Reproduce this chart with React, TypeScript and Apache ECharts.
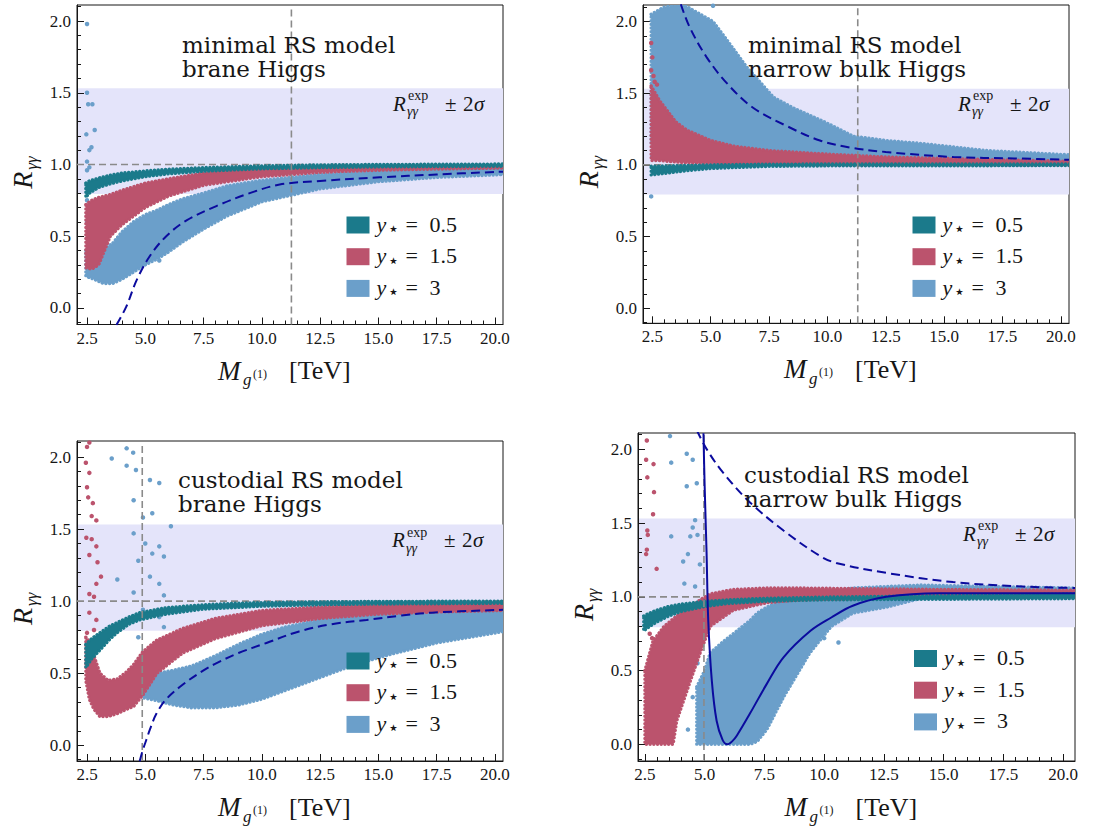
import React, { useEffect, useRef } from 'react';
import * as echarts from 'echarts';

const FONT = 'Liberation Serif';
const TITLEFONT = 'DejaVu Serif';
const SYMFONT = 'DejaVu Sans';

// ---------- axes / ticks ----------
const xMajor = [2.5, 5, 7.5, 10, 12.5, 15, 17.5, 20];
const yMajor = [0, 0.5, 1, 1.5, 2];

// experimental band R_gg^exp +- 2 sigma
const bandLo = 0.794;
const bandHi = 1.531;

// colours
const C_TEAL = '#1b7a8b';
const C_RED = '#bb536d';
const C_BLUE = '#6b9fca';
const C_NAVY = '#0b0b9e';
const C_GRAY = '#8a8a8a';
const C_BAND = '#e4e4fa';
const C_INK = '#161616';

// ---------- panel frames ----------
const xRanges = [[2.07, 20.35], [2.1, 20.35], [2.07, 20.35], [2.21, 20.5]];
const yRanges = [[-0.116, 2.112], [-0.105, 2.115], [-0.109, 2.111], [-0.113, 2.111]];
const vLines = [11.27, 11.3, 4.87, 4.97];
const titles = [
  'minimal RS model\nbrane Higgs',
  'minimal RS model\nnarrow bulk Higgs',
  'custodial RS model\nbrane Higgs',
  'custodial RS model\nnarrow bulk Higgs',
];
const legendValues = ['0.5', '1.5', '3'];

// ---------- clouds: [M, lower, upper] ----------
// panel 1: minimal RS, brane Higgs
const p1Teal = [[2.45, 0.77, 0.87], [2.6, 0.8, 0.885], [3, 0.84, 0.905], [3.5, 0.865, 0.925], [4, 0.885, 0.94], [5, 0.915, 0.955], [6, 0.935, 0.967], [7.5, 0.953, 0.978], [10, 0.97, 0.99], [12.5, 0.978, 0.997], [15, 0.983, 1.0], [20.4, 0.988, 1.003]];
const p1Red = [[2.45, 0.28, 0.72], [2.7, 0.27, 0.75], [3, 0.3, 0.77], [3.5, 0.5, 0.79], [4, 0.58, 0.82], [4.5, 0.64, 0.845], [5, 0.7, 0.87], [6, 0.78, 0.9], [7.5, 0.855, 0.94], [10, 0.915, 0.97], [12.5, 0.945, 0.983], [15, 0.96, 0.99], [17.5, 0.968, 0.993], [20.4, 0.975, 0.996]];
const p1Blue = [[2.45, 0.22, 0.4], [2.8, 0.2, 0.39], [3.2, 0.17, 0.41], [3.6, 0.17, 0.45], [4, 0.2, 0.53], [4.5, 0.25, 0.6], [5, 0.3, 0.65], [5.5, 0.34, 0.68], [6, 0.39, 0.72], [6.6, 0.46, 0.76], [7.5, 0.55, 0.8], [8.5, 0.64, 0.85], [10, 0.74, 0.89], [12.5, 0.83, 0.93], [15, 0.88, 0.95], [17.5, 0.91, 0.965], [20.4, 0.93, 0.975]];
const p1BlueDots = [[2.5, 1.98], [2.5, 1.5], [2.55, 1.42], [2.73, 1.42], [2.83, 1.24], [2.47, 1.21], [2.69, 1.12], [2.6, 1.1], [2.5, 1.02], [2.6, 0.98], [2.5, 0.96], [2.55, 0.84], [2.5, 0.75], [2.62, 0.68], [2.5, 0.6], [2.55, 0.52], [2.6, 0.46], [5.6, 0.33]];
const p1Dashed = [[3.76, -0.12], [4.19, 0.01], [4.62, 0.19], [5.19, 0.36], [5.9, 0.5], [6.77, 0.61], [8.05, 0.71], [9.48, 0.8], [10.77, 0.86], [12.5, 0.885], [15.06, 0.91], [17.5, 0.93], [20.35, 0.95]];

// panel 2: minimal RS, narrow bulk Higgs
const p2Teal = [[2.45, 0.93, 0.99], [3, 0.94, 0.992], [4, 0.96, 0.996], [5, 0.975, 1.0], [7.5, 0.99, 1.005], [10, 0.993, 1.006], [20.4, 0.995, 1.006]];
const p2Red = [[2.45, 1.03, 1.55], [2.8, 1.03, 1.45], [3.5, 1.02, 1.3], [4, 1.015, 1.24], [5, 1.01, 1.17], [6, 1.005, 1.13], [7.5, 1.0, 1.1], [10, 1.0, 1.075], [12.5, 1.0, 1.055], [15, 1.0, 1.045], [17.5, 1.0, 1.035], [20.4, 1.0, 1.025]];
const p2RedDots = [[2.45, 1.85], [2.5, 1.75], [2.55, 1.62], [2.6, 1.58], [2.45, 1.66], [2.7, 1.56]];
const p2Blue = [[2.45, 1.15, 2.05], [3, 1.1, 2.1], [3.8, 1.1, 2.12], [5.1, 1.08, 2.0], [5.7, 1.06, 1.87], [6.55, 1.05, 1.68], [7.7, 1.04, 1.47], [8.5, 1.04, 1.4], [10, 1.03, 1.29], [11.1, 1.03, 1.2], [12.5, 1.02, 1.17], [14, 1.02, 1.15], [16.8, 1.01, 1.1], [20.4, 1.01, 1.07]];
const p2BlueDots = [[2.45, 0.78], [2.5, 1.06], [2.6, 1.12], [5.1, 2.11]];
const p2Dashed = [[3.72, 2.12], [4.1, 1.96], [4.83, 1.75], [5.69, 1.57], [6.8, 1.4], [8.27, 1.27], [9.68, 1.17], [11, 1.12], [12.5, 1.09], [15.4, 1.055], [18, 1.045], [20.35, 1.035]];

// panel 3: custodial RS, brane Higgs
const p3Teal = [[2.45, 0.54, 0.7], [2.7, 0.6, 0.74], [3.05, 0.66, 0.78], [3.5, 0.74, 0.83], [3.78, 0.78, 0.85], [4.3, 0.84, 0.89], [4.76, 0.87, 0.92], [5.9, 0.91, 0.955], [7.5, 0.945, 0.975], [8.8, 0.955, 0.985], [10, 0.965, 0.99], [12.5, 0.975, 0.995], [15, 0.98, 0.998], [20.4, 0.985, 1.0]];
const p3Red = [[2.45, 0.45, 0.75], [2.6, 0.32, 0.72], [2.8, 0.25, 0.62], [3.05, 0.2, 0.5], [3.4, 0.2, 0.45], [3.8, 0.22, 0.46], [4.2, 0.25, 0.51], [4.5, 0.27, 0.56], [4.9, 0.35, 0.65], [5.5, 0.5, 0.73], [6.6, 0.64, 0.81], [8, 0.74, 0.88], [10, 0.83, 0.935], [12.5, 0.88, 0.96], [15, 0.91, 0.97], [17.5, 0.925, 0.975], [20.4, 0.935, 0.98]];
const p3RedDots = [[2.5, 2.07], [2.6, 2.1], [2.45, 1.96], [2.6, 1.89], [2.5, 1.79], [2.55, 1.72], [2.75, 1.68], [2.7, 1.59], [2.9, 1.56], [2.47, 1.44], [2.7, 1.43], [2.9, 1.38], [2.6, 1.32], [2.95, 1.27], [3.1, 1.17], [2.9, 1.12], [2.6, 1.05], [2.8, 1.03], [2.6, 0.92], [2.9, 0.87], [2.5, 0.78], [2.8, 0.8]];
const p3Blue = [[4.9, 0.33, 0.47], [5.5, 0.31, 0.5], [6.2, 0.28, 0.52], [7, 0.26, 0.55], [8, 0.26, 0.62], [9, 0.28, 0.7], [10, 0.32, 0.77], [11, 0.38, 0.82], [12.5, 0.47, 0.87], [14, 0.56, 0.9], [15.5, 0.63, 0.915], [17.5, 0.71, 0.93], [20.4, 0.79, 0.945]];
const p3BlueDots = [[4.2, 2.06], [4.48, 2.03], [3.56, 1.99], [4.2, 1.94], [4.6, 1.91], [5.2, 1.84], [5.6, 1.82], [4.5, 1.7], [5.3, 1.61], [4.9, 1.58], [6.1, 1.52], [4.5, 1.47], [5.0, 1.4], [5.6, 1.38], [5.3, 1.33], [5.8, 1.31], [4.7, 1.28], [3.8, 1.15], [5.2, 1.17], [5.6, 1.12], [4.5, 1.06], [5.8, 1.04], [4.9, 0.94], [5.6, 0.89], [4.7, 0.75], [5.8, 0.82], [5.2, 0.62], [4.8, 0.52]];
const p3Dashed = [[4.76, -0.11], [4.9, -0.03], [5.05, 0.04], [5.2, 0.11], [5.48, 0.22], [5.9, 0.32], [6.6, 0.42], [7.5, 0.52], [8.06, 0.57], [9, 0.64], [10.2, 0.71], [11.6, 0.79], [13, 0.84], [14.5, 0.87], [16, 0.9], [17.3, 0.92], [20.35, 0.94]];

// panel 4: custodial RS, narrow bulk Higgs
const p4Teal = [[2.45, 0.77, 0.87], [2.7, 0.8, 0.89], [3, 0.83, 0.91], [3.5, 0.87, 0.935], [4, 0.9, 0.95], [5, 0.935, 0.97], [6, 0.955, 0.98], [7.5, 0.97, 0.99], [10, 0.98, 0.998], [20.5, 0.988, 1.02]];
const p4Red = [[2.5, 0.0, 0.5], [2.84, 0.0, 0.7], [3.3, 0.0, 0.8], [3.68, 0.0, 0.85], [3.83, 0.16, 0.87], [4.4, 0.43, 0.93], [4.81, 0.62, 0.98], [5.23, 0.8, 1.02], [6.2, 0.91, 1.05], [7.6, 0.96, 1.06], [9, 0.98, 1.06], [12, 0.99, 1.055], [15, 1.0, 1.05], [20.5, 1.0, 1.045]];
const p4RedDots = [[2.58, 2.06], [2.55, 1.93], [2.86, 1.9], [2.6, 1.81], [2.88, 1.71], [2.84, 1.56], [2.6, 1.45], [2.62, 1.42], [2.58, 1.32], [2.55, 1.29], [2.99, 1.19], [2.7, 0.75], [2.8, 0.72]];
const p4Blue = [[4.67, 0.0, 0.39], [5, 0.0, 0.5], [5.23, 0.0, 0.62], [5.8, 0.0, 0.7], [6.2, 0.0, 0.75], [6.9, 0.0, 0.84], [7.2, 0.02, 0.89], [7.6, 0.1, 0.93], [8.3, 0.32, 0.98], [9.4, 0.62, 1.01], [10.3, 0.8, 1.03], [11.2, 0.89, 1.06], [12.6, 0.93, 1.07], [14.05, 0.99, 1.08], [17, 1.0, 1.07], [20.5, 1.0, 1.06]];
const p4BlueDots = [[3.55, 2.09], [4.25, 1.97], [4.5, 1.93], [3.6, 1.91], [4.25, 1.75], [4.67, 1.77], [4.6, 1.52], [4.5, 1.47], [4.4, 1.41], [4.7, 1.42], [3.6, 1.41], [4.1, 1.24], [4.3, 1.29], [4.8, 1.22], [4.6, 1.07], [4.15, 1.09], [4.9, 0.98], [4.75, 0.85], [4.85, 0.7], [4.7, 0.55], [4.5, 0.32], [4.3, 0.1], [10.0, 0.72], [10.6, 0.69]];
const p4Dashed = [[4.67, 2.13], [5.09, 2.0], [5.78, 1.84], [6.9, 1.64], [8.3, 1.45], [9.8, 1.28], [10.5, 1.23], [12.7, 1.16], [15.4, 1.1], [18.3, 1.07], [20.5, 1.06]];
const p4Solid = [[4.95, 2.11], [5.0, 1.75], [5.08, 1.3], [5.15, 0.84], [5.3, 0.43], [5.5, 0.16], [5.75, 0.03], [5.95, 0.0], [6.15, 0.02], [6.35, 0.06], [6.9, 0.21], [7.6, 0.41], [8.3, 0.59], [9.43, 0.77], [10.3, 0.86], [11.2, 0.94], [12.6, 1.0], [14.8, 1.025], [17, 1.025], [20.5, 1.025]];

const panels = [
  { teal: p1Teal, red: p1Red, blue: p1Blue, redDots: [], blueDots: p1BlueDots, dashed: p1Dashed, solid: null },
  { teal: p2Teal, red: p2Red, blue: p2Blue, redDots: p2RedDots, blueDots: p2BlueDots, dashed: p2Dashed, solid: null },
  { teal: p3Teal, red: p3Red, blue: p3Blue, redDots: p3RedDots, blueDots: p3BlueDots, dashed: p3Dashed, solid: null },
  { teal: p4Teal, red: p4Red, blue: p4Blue, redDots: p4RedDots, blueDots: p4BlueDots, dashed: p4Dashed, solid: p4Solid },
];

// ---------- layout (pixels) ----------
const grids = [
  { left: 77, top: 5, width: 426, height: 319.5 },
  { left: 643, top: 5, width: 426, height: 318.3 },
  { left: 77, top: 441, width: 426, height: 320 },
  { left: 638, top: 433, width: 437, height: 328 },
];
const titlePos = [[182, 57], [748, 57], [178, 492], [744, 487]];
const rexpPos = [[393, 103.5], [958, 103.5], [392, 540], [963, 533.5]];
const legendPos = [[346.5, 225], [912.5, 225], [346.5, 661], [914, 658.5]];

function minorTicks(majors: number[], from: number, to: number, step: number) {
  const out: number[] = [];
  const n = Math.round((to - from) / step);
  for (let i = 0; i <= n; i++) {
    const v = +(from + i * step).toFixed(3);
    if (!majors.some((m) => Math.abs(m - v) < 1e-6)) out.push(v);
  }
  return out;
}
const xMinor = minorTicks(xMajor, 2.5, 20, 0.5);
const yMinor = minorTicks(yMajor, -0.1, 2.1, 0.1);

function T(x: number, y: number, text: string, size: number, italic = false, family = FONT, extra: any = {}) {
  return {
    type: 'text',
    x,
    y,
    z: 100,
    silent: true,
    style: {
      text,
      fontSize: size,
      fontFamily: family,
      fontStyle: italic ? 'italic' : 'normal',
      fill: C_INK,
      verticalAlign: 'middle',
      align: 'left',
      ...extra,
    },
  };
}

function cloud(p: number, band: number[][], color: string, z: number) {
  return {
    type: 'custom',
    xAxisIndex: 2 * p,
    yAxisIndex: 2 * p,
    clip: true,
    silent: true,
    z,
    data: [[band[0][0], band[0][1]]],
    renderItem: (_params: any, api: any) => {
      const pts: number[][] = [];
      for (const b of band) pts.push(api.coord([b[0], b[2]]));
      for (let i = band.length - 1; i >= 0; i--) pts.push(api.coord([band[i][0], band[i][1]]));
      return {
        type: 'polygon',
        shape: { points: pts },
        style: { fill: color, stroke: color, lineWidth: 3.4, lineDash: [0.1, 3.6], lineCap: 'round', lineJoin: 'round' },
      };
    },
  };
}

function dots(p: number, data: number[][], color: string, z: number) {
  return {
    type: 'scatter',
    xAxisIndex: 2 * p,
    yAxisIndex: 2 * p,
    data,
    symbolSize: 4.5,
    silent: true,
    z,
    itemStyle: { color, opacity: 1 },
  };
}

function lineS(p: number, data: number[][], color: string, width: number, type: any, z: number, smooth: number) {
  return {
    type: 'line',
    xAxisIndex: 2 * p,
    yAxisIndex: 2 * p,
    data,
    showSymbol: false,
    symbol: 'none',
    smooth,
    silent: true,
    z,
    clip: true,
    lineStyle: { color, width, type },
  };
}

function bandRect(p: number) {
  const xr = xRanges[p];
  return {
    type: 'custom',
    xAxisIndex: 2 * p,
    yAxisIndex: 2 * p,
    clip: true,
    silent: true,
    z: 0,
    data: [[xr[0], bandLo]],
    renderItem: (_params: any, api: any) => {
      const a = api.coord([xr[0], bandHi]);
      const b = api.coord([xr[1], bandLo]);
      return { type: 'rect', shape: { x: a[0], y: a[1], width: b[0] - a[0], height: b[1] - a[1] }, style: { fill: C_BAND } };
    },
  };
}

function buildOption() {
  const xAxis: any[] = [];
  const yAxis: any[] = [];
  const series: any[] = [];
  const graphic: any[] = [];
  const labelStyle = { fontFamily: FONT, fontSize: 17, color: C_INK };

  panels.forEach((pd, p) => {
    const [x0, x1] = xRanges[p];
    const [y0, y1] = yRanges[p];
    xAxis.push({
      gridIndex: p, type: 'value', min: x0, max: x1, position: 'bottom',
      axisLine: { show: true, onZero: false, lineStyle: { color: C_INK, width: 1 } },
      axisTick: { show: true, inside: true, length: 7, customValues: xMajor, lineStyle: { color: C_INK } },
      axisLabel: { show: true, customValues: xMajor, formatter: (v: number) => v.toFixed(1), margin: 5, ...labelStyle },
      splitLine: { show: false },
    });
    xAxis.push({
      gridIndex: p, type: 'value', min: x0, max: x1, position: 'bottom',
      axisLine: { show: false, onZero: false },
      axisTick: { show: true, inside: true, length: 4, customValues: xMinor, lineStyle: { color: C_INK } },
      axisLabel: { show: false },
      splitLine: { show: false },
    });
    yAxis.push({
      gridIndex: p, type: 'value', min: y0, max: y1, position: 'left',
      axisLine: { show: true, onZero: false, lineStyle: { color: C_INK, width: 1 } },
      axisTick: { show: true, inside: true, length: 7, customValues: yMajor, lineStyle: { color: C_INK } },
      axisLabel: { show: true, customValues: yMajor, formatter: (v: number) => v.toFixed(1), margin: 6, ...labelStyle },
      splitLine: { show: false },
    });
    yAxis.push({
      gridIndex: p, type: 'value', min: y0, max: y1, position: 'left',
      axisLine: { show: false, onZero: false },
      axisTick: { show: true, inside: true, length: 4, customValues: yMinor, lineStyle: { color: C_INK } },
      axisLabel: { show: false },
      splitLine: { show: false },
    });

    series.push(bandRect(p));
    series.push(lineS(p, [[x0, 1], [x1, 1]], C_GRAY, 1.6, [7, 4], 1, 0));
    series.push(cloud(p, pd.blue, C_BLUE, 2));
    series.push(dots(p, pd.blueDots, C_BLUE, 2));
    series.push(cloud(p, pd.red, C_RED, 3));
    series.push(dots(p, pd.redDots, C_RED, 3));
    series.push(cloud(p, pd.teal, C_TEAL, 4));
    series.push(lineS(p, [[vLines[p], y0], [vLines[p], y1]], C_GRAY, 1.6, [7, 4], 5, 0));
    series.push(lineS(p, pd.dashed, C_NAVY, 2, [9, 5], 6, 0.35));
    if (pd.solid) series.push(lineS(p, pd.solid, C_NAVY, 2, 'solid', 6, 0.35));

    // titles (two lines)
    const [tx, ty] = titlePos[p];
    graphic.push(T(tx, ty, titles[p], 23, false, TITLEFONT, { lineHeight: 24 }));

    // R_gg^exp +- 2 sigma
    const [rx, ry] = rexpPos[p];
    graphic.push(T(rx, ry, 'R', 21, true));
    graphic.push(T(rx + 15, ry - 8, 'exp', 14));
    graphic.push(T(rx + 14, ry + 8, 'γγ', 14, true));
    graphic.push(T(rx + 52, ry, '±', 21));
    graphic.push(T(rx + 70, ry, '2', 21));
    graphic.push(T(rx + 81, ry, 'σ', 21, true));

    // legend
    const [lx, ly] = legendPos[p];
    [C_TEAL, C_RED, C_BLUE].forEach((c, i) => {
      const cy = ly + i * 31.7;
      graphic.push({ type: 'rect', z: 100, silent: true, shape: { x: lx, y: cy - 8.5, width: 23, height: 17 }, style: { fill: c } });
      graphic.push(T(lx + 30, cy - 1, 'y', 22, true));
      graphic.push(T(lx + 41, cy + 3, '⋆', 19, false, SYMFONT));
      graphic.push(T(lx + 59, cy - 1, '=', 22));
      graphic.push(T(lx + 83, cy - 1, legendValues[i], 22));
    });

    // axis titles
    const g = grids[p];
    const cx = g.left + g.width / 2;
    const ym = g.top + g.height + 46;
    graphic.push(T(cx - 72, ym, 'M', 27, true));
    graphic.push(T(cx - 47, ym + 9, 'g', 17, true));
    graphic.push(T(cx - 37, ym + 3, '(1)', 12));
    graphic.push(T(cx - 1, ym, '[TeV]', 26));

    const lyc = g.top + g.height / 2;
    graphic.push({
      type: 'group', x: g.left - 55, y: lyc, rotation: Math.PI / 2, z: 100, silent: true,
      children: [T(-24, 0, 'R', 28, true), T(-5, 9, 'γγ', 17, true)],
    });
  });

  return {
    animation: false,
    backgroundColor: '#ffffff',
    grid: grids.map((g) => ({ ...g, show: true, borderColor: C_INK, borderWidth: 1, backgroundColor: 'rgba(0,0,0,0)' })),
    xAxis,
    yAxis,
    series,
    graphic,
  };
}

export default function App() {
  const ref = useRef<HTMLDivElement>(null);
  useEffect(() => {
    if (!ref.current) return;
    const chart = echarts.init(ref.current, null, { renderer: 'svg' });
    chart.setOption(buildOption() as any);
    return () => chart.dispose();
  }, []);
  return <div ref={ref} style={{ position: 'absolute', left: 0, top: 0, width: 1093, height: 827 }} />;
}
